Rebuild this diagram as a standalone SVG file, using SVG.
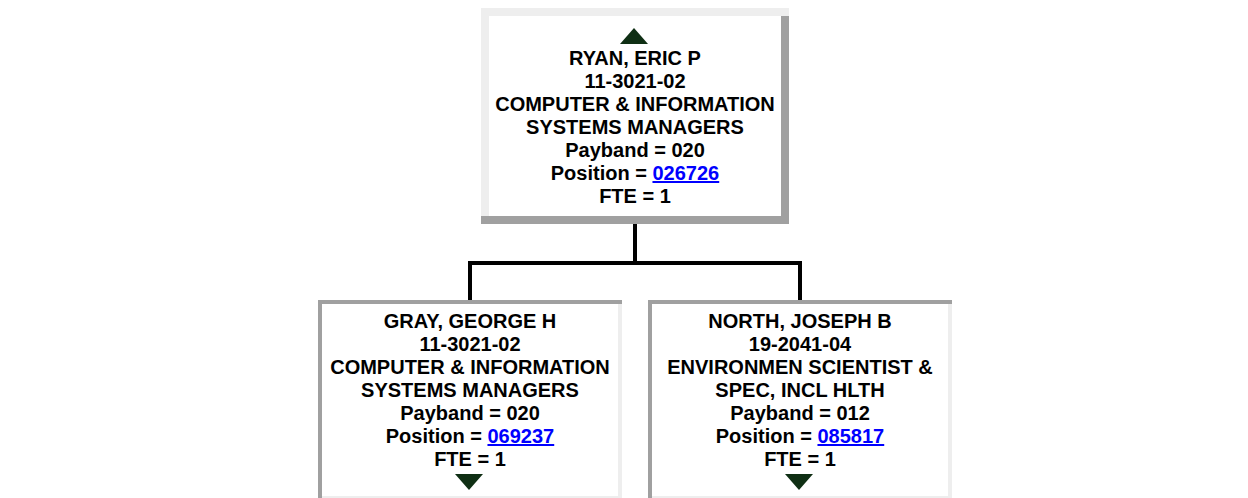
<svg xmlns="http://www.w3.org/2000/svg" width="1248" height="498" viewBox="0 0 1248 498">
<defs>
<style>
.t{font-family:"Liberation Sans",Arial,sans-serif;font-weight:bold;font-size:20px;fill:#000;text-anchor:middle}
.lnk{fill:#0000ff;text-decoration:underline}
.lt{fill:#eeeeee}
.dk{fill:#a0a0a0}
.in{fill:#ffffff}
.tri{fill:#0f2f14}
.con{fill:none;stroke:#000;stroke-width:4;stroke-linecap:square}
</style>
</defs>
<rect width="1248" height="498" fill="#ffffff"/>
<g id="connectors">
<path class="con" d="M635 224 V263 M470 263 H800 M470 263 V300 M800 263 V300"/>
</g>
<g id="node-ryan">
<rect class="lt" x="481" y="8" width="308" height="216"/>
<rect class="dk" x="781" y="16" width="8" height="208"/>
<rect class="dk" x="481" y="216" width="308" height="8"/>
<rect class="in" x="489" y="16" width="292" height="200"/>
<polygon class="tri" points="634,28 648,44 620,44"/>
<text class="t" x="635" y="65">RYAN, ERIC P</text>
<text class="t" x="635" y="88">11-3021-02</text>
<text class="t" x="635" y="111">COMPUTER &amp; INFORMATION</text>
<text class="t" x="635" y="134">SYSTEMS MANAGERS</text>
<text class="t" x="635" y="157">Payband = 020</text>
<text class="t" x="635" y="180">Position = <tspan class="lnk">026726</tspan></text>
<text class="t" x="635" y="203">FTE = 1</text>
</g>
<g id="node-gray">
<rect class="lt" x="318" y="300" width="304" height="200"/>
<rect class="dk" x="318" y="300" width="304" height="4"/>
<rect class="dk" x="318" y="300" width="4" height="200"/>
<rect class="in" x="322" y="304" width="296" height="192"/>
<polygon class="tri" points="455,474 483,474 469,490"/>
<text class="t" x="470" y="328">GRAY, GEORGE H</text>
<text class="t" x="470" y="351">11-3021-02</text>
<text class="t" x="470" y="374">COMPUTER &amp; INFORMATION</text>
<text class="t" x="470" y="397">SYSTEMS MANAGERS</text>
<text class="t" x="470" y="420">Payband = 020</text>
<text class="t" x="470" y="443">Position = <tspan class="lnk">069237</tspan></text>
<text class="t" x="470" y="466">FTE = 1</text>
</g>
<g id="node-north">
<rect class="lt" x="648" y="300" width="304" height="200"/>
<rect class="dk" x="648" y="300" width="304" height="4"/>
<rect class="dk" x="648" y="300" width="4" height="200"/>
<rect class="in" x="652" y="304" width="296" height="192"/>
<polygon class="tri" points="785,474 813,474 799,490"/>
<text class="t" x="800" y="328">NORTH, JOSEPH B</text>
<text class="t" x="800" y="351">19-2041-04</text>
<text class="t" x="800" y="374">ENVIRONMEN SCIENTIST &amp;</text>
<text class="t" x="800" y="397">SPEC, INCL HLTH</text>
<text class="t" x="800" y="420">Payband = 012</text>
<text class="t" x="800" y="443">Position = <tspan class="lnk">085817</tspan></text>
<text class="t" x="800" y="466">FTE = 1</text>
</g>
</svg>
